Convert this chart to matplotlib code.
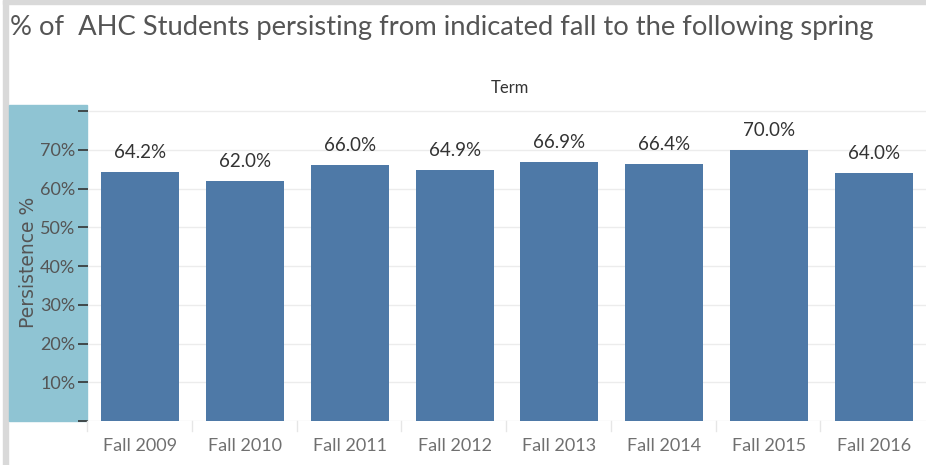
import matplotlib.pyplot as plt
from matplotlib.patches import Rectangle

terms = ['Fall 2009', 'Fall 2010', 'Fall 2011', 'Fall 2012',
         'Fall 2013', 'Fall 2014', 'Fall 2015', 'Fall 2016']
persistence = [64.2, 62.0, 66.0, 64.9, 66.9, 66.4, 70.0, 64.0]
y_ticks = [0, 10, 20, 30, 40, 50, 60, 70, 80]
y_labels = ['', '10%', '20%', '30%', '40%', '50%', '60%', '70%', '']

plt.rcParams['font.family'] = ['Lato', 'DejaVu Sans']

W, H = 926, 465
fig = plt.figure(figsize=(W / 100, H / 100), dpi=100)

def fx(px):
    return px / W

def fy(py):
    return 1 - py / H

# gray frame on the left and top
fig.patches.append(Rectangle((fx(3), 0), fx(5), 1, transform=fig.transFigure,
                             color='#d9d9d9', zorder=-2))
fig.patches.append(Rectangle((fx(3), fy(4)), 1, fy(0) - fy(4), transform=fig.transFigure,
                             color='#d9d9d9', zorder=-2))

# teal y-axis header panel
fig.patches.append(Rectangle((fx(9), fy(421)), fx(78), fy(105) - fy(421),
                             transform=fig.transFigure, color='#8fc4d3', zorder=-2))

ax = fig.add_axes([fx(88), fy(421), 1 - fx(88), fy(105) - fy(421)])
x = range(len(terms))
bars = ax.bar(x, persistence, width=0.745, color='#4e79a7', zorder=3)
for b, v in zip(bars, persistence):
    ax.annotate(f'{v:.1f}%', (b.get_x() + b.get_width() / 2, v),
                xytext=(0, 8), textcoords='offset points',
                ha='center', va='bottom', fontsize=13.5, color='#333333')

ax.set_xlim(-0.5, len(terms) - 0.5)
ax.set_ylim(0, 81.6)
ax.set_yticks(y_ticks)
ax.set_yticklabels(y_labels, fontsize=13, color='#555555')
ax.tick_params(axis='y', length=7, width=1.2, color='#333333', pad=2)
ax.set_xticks(list(x))
ax.set_xticklabels(terms, fontsize=13, color='#707070')
ax.tick_params(axis='x', length=0, pad=12)
ax.yaxis.grid(True, color='#ececec', linewidth=1, zorder=0)
for s in ax.spines.values():
    s.set_visible(False)
ax.set_facecolor('none')

# category separators below the axis
for i in range(len(terms)):
    xx = fx(87 + i * 104.75)
    fig.add_artist(plt.Line2D([xx, xx], [fy(421), fy(431)], transform=fig.transFigure,
                              color='#e6e6e6', linewidth=1))

fig.text(fx(28), fy(262), 'Persistence %', rotation=90, ha='center', va='center',
         fontsize=13.5, color='#555555', family='DejaVu Sans')
fig.text(fx(510), fy(88), 'Term', ha='center', va='center', fontsize=12, color='#333333')
title = fig.text(fx(10), fy(28),
                 '% of  AHC Students persisting from indicated fall to the following spring',
                 ha='left', va='center', fontsize=25, color='#555555')

# shrink the title to the width it has in the original
r = fig.canvas.get_renderer()
w = title.get_window_extent(r).width
title.set_fontsize(25 * 865 / w)

fig.savefig('out.png', dpi=100)
